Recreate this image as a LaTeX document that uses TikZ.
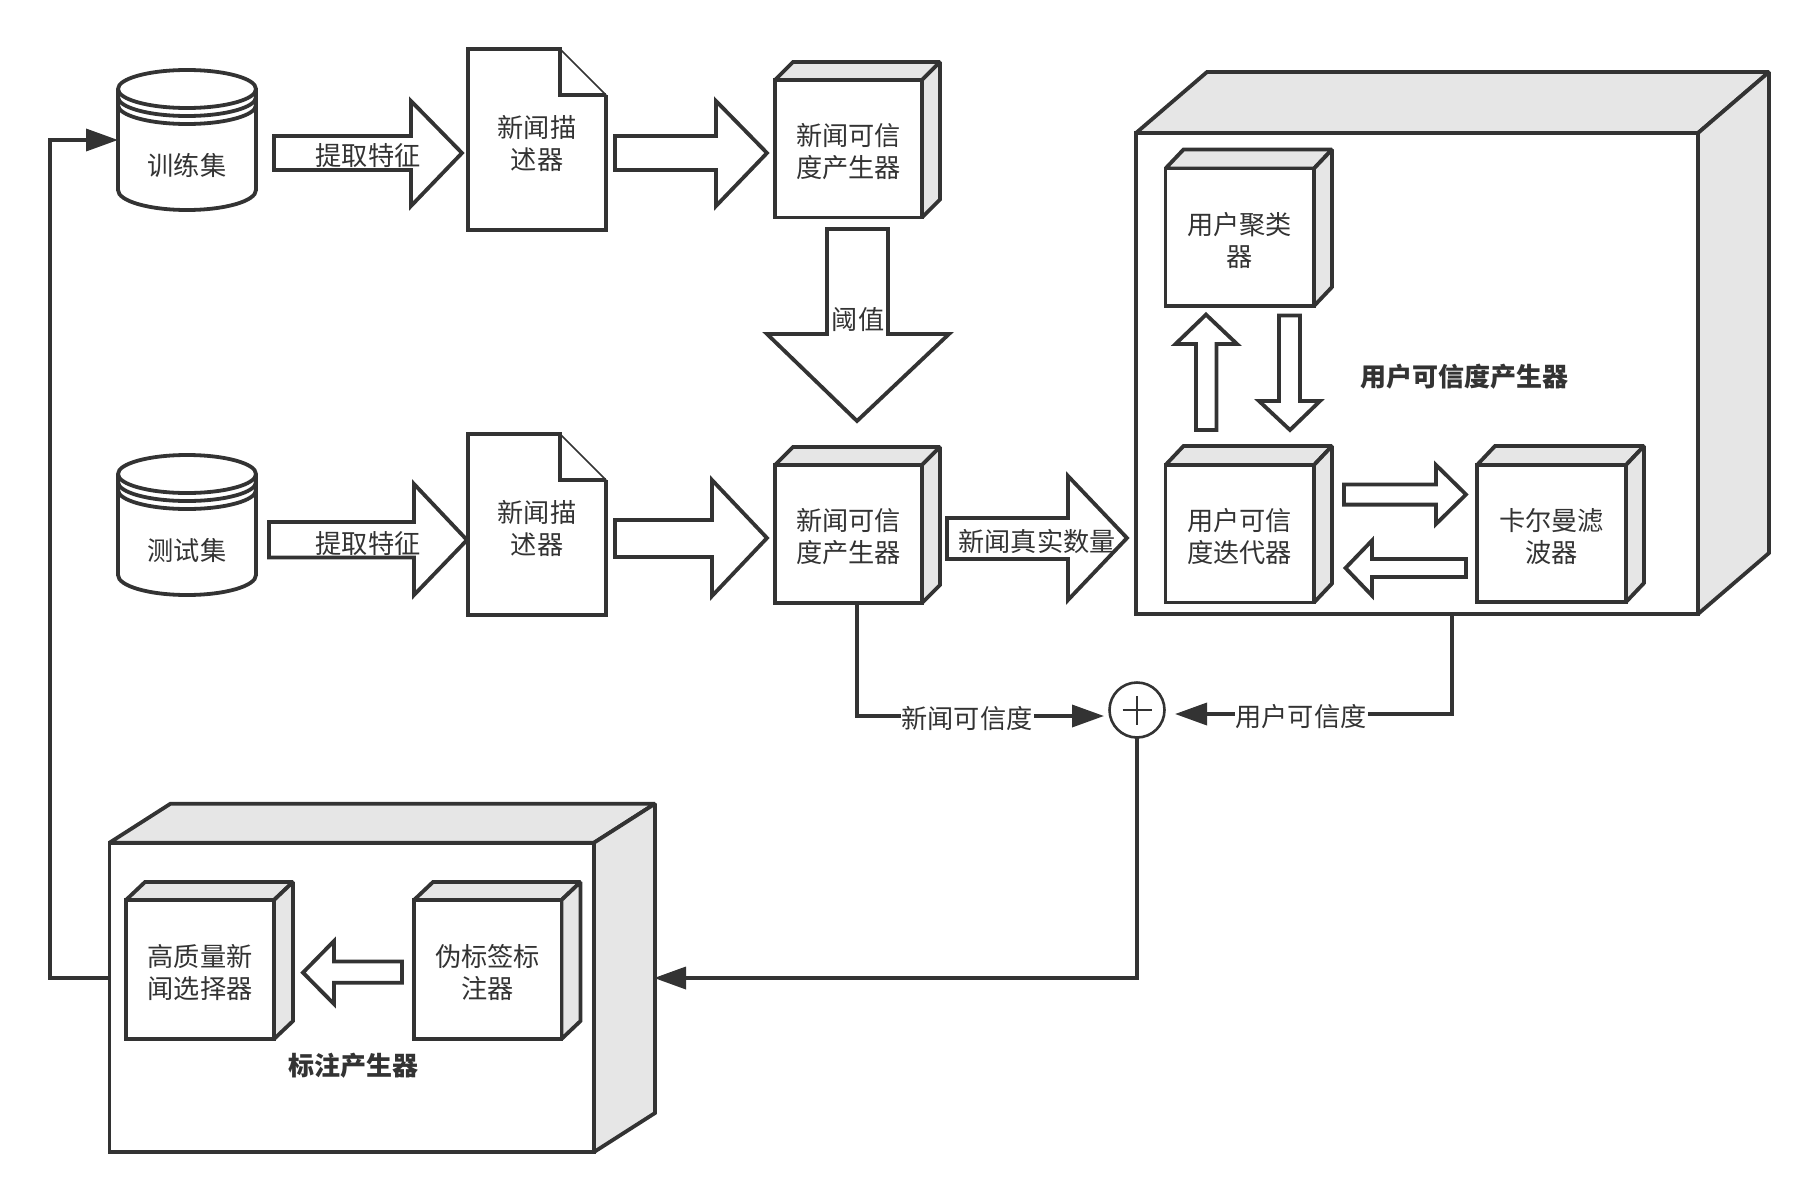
\documentclass[tikz,border=0pt]{standalone}
\usepackage{fontspec}
\newfontfamily\cjk{Noto Sans CJK SC}
\usetikzlibrary{arrows.meta}
\definecolor{ink}{HTML}{333333}
\definecolor{facegray}{HTML}{E6E6E6}
\tikzset{
  stroke/.style={draw=ink,line width=3.8pt,line join=miter,miter limit=2},
  frontface/.style={stroke,fill=white,inner sep=0pt,outer sep=0pt},
  sideface/.style={stroke,fill=facegray},
  blockarrow/.style={draw=ink,line width=3.8pt,line join=miter,fill=white},
  txt/.style={inner sep=0pt,outer sep=0pt,align=center,text=ink,font=\cjk\fontsize{26.2}{32}\selectfont},
  boldtxt/.style={txt,font=\cjk\bfseries\fontsize{26}{32}\selectfont},
  edgelabel/.style={txt,fill=white,inner sep=1pt},
  flow/.style={draw=ink,line width=3.6pt,-{Triangle[length=32pt,width=22pt]}},
  hidden/.style={inner sep=0pt,outer sep=0pt},
}
\newcommand{\cubebox}[8]{%
  \path[sideface] (#2,#3) -- ({#2+#6},{#3-#7}) -- ({#4+#6},{#3-#7}) -- (#4,#3) -- cycle;
  \path[sideface] (#4,#3) -- ({#4+#6},{#3-#7}) -- ({#4+#6},{#5-#7}) -- (#4,#5) -- cycle;
  \node[frontface,minimum width={(#4-#2)*1pt},minimum height={(#5-#3)*1pt}] (#1) at ({(#2+#4)/2},{(#3+#5)/2}) {};
  \node[txt] (#1-text) at ({(#2+#4)/2},{(#3+#5)/2+3}) {#8};
}
\newcommand{\drum}[3]{% name, top y, text
  \path[stroke,fill=white] (118,{#2+19}) -- (118,{#2+120}) arc[start angle=180,end angle=360,x radius=69pt,y radius=20pt] -- (256,{#2+19}) arc[start angle=0,end angle=180,x radius=69pt,y radius=19pt] -- cycle;
  \path[stroke] (118,{#2+19}) arc[start angle=180,end angle=360,x radius=69pt,y radius=19pt];
  \path[stroke] (118,{#2+27}) arc[start angle=180,end angle=360,x radius=69pt,y radius=19pt];
  \path[stroke] (118,{#2+35}) arc[start angle=180,end angle=360,x radius=69pt,y radius=19pt];
  \node[hidden,minimum width=138pt,minimum height=140pt] (#1) at (187,{#2+70}) {};
  \node[txt] (#1-text) at (187,{#2+95.5}) {#3};
}
\newcommand{\docsheet}[3]{% name, top y, text
  \path[fill=white] (468,#2) -- (560,#2) -- (606,{#2+46}) -- ({606},{#2+181}) -- (468,{#2+181}) -- cycle;
  \draw[draw=ink,line width=1.6pt] (560,#2) -- (606,{#2+46});
  \path[draw=ink,line width=3.8pt,line join=miter] (606,{#2+46}) -- (606,{#2+181}) -- (468,{#2+181}) -- (468,#2) -- (560,#2) -- (560,{#2+46}) -- (606,{#2+46});
  \node[txt] (#1) at (537,{#2+94}) {#3};
}
\begin{document}
\begin{tikzpicture}[x=1pt,y=-1pt]
\path[use as bounding box] (0,0) rectangle (1819,1202);

% cylinders
\drum{train}{70}{训练集}
\drum{test}{455}{测试集}

% documents
\docsheet{doc1}{49}{新闻描\\述器}
\docsheet{doc2}{434}{新闻描\\述器}

% small cubes, upper left
\cubebox{gen1}{775}{80}{922}{217.5}{18}{18}{新闻可信\\度产生器}
\cubebox{gen2}{775}{465}{922}{603}{18}{18}{新闻可信\\度产生器}

% block arrows, top and middle rows
\path[blockarrow] (274,136) -- (411,136) -- (411,101) -- (462,153) -- (411,206) -- (411,170) -- (274,170) -- cycle;
\path[blockarrow] (615,136) -- (716,136) -- (716,101) -- (767,153) -- (716,206) -- (716,170) -- (615,170) -- cycle;
\path[blockarrow] (269,522) -- (414,522) -- (414,484) -- (467,540) -- (414,595) -- (414,557.5) -- (269,557.5) -- cycle;
\path[blockarrow] (615,520) -- (712,520) -- (712,480) -- (767,538) -- (712,596) -- (712,557) -- (615,557) -- cycle;
\path[blockarrow] (827,229) -- (888,229) -- (888,334) -- (949,334) -- (857,421) -- (767,334) -- (827,334) -- cycle;
\path[blockarrow] (947,518) -- (1068,518) -- (1068,476) -- (1127,538) -- (1068,600) -- (1068,559) -- (947,559) -- cycle;

\node[txt] (extract1) at (368,155.5) {提取特征};
\node[txt] (extract2) at (368,544) {提取特征};
\node[txt] (threshold) at (858,320) {阈值};
\node[txt] (truecount) at (1037,541) {新闻真实数量};

% user credibility generator
\cubebox{ucred}{1136}{133}{1698}{614}{71}{61}{}
\node[boldtxt] (ucredtitle) at (1464,377) {用户可信度产生器};
\cubebox{cluster}{1165.5}{168.5}{1314}{306}{18}{19}{用户聚类\\器}
\cubebox{iter}{1165.5}{465}{1314}{602.5}{18}{19}{用户可信\\度迭代器}
\cubebox{kalman}{1477}{465}{1626}{602}{18}{19}{卡尔曼滤\\波器}
\path[blockarrow] (1196,430) -- (1196,344) -- (1175.5,344) -- (1206,314.6) -- (1237,344) -- (1216.5,344) -- (1216.5,430) -- cycle;
\path[blockarrow] (1279,315.5) -- (1300,315.5) -- (1300,401) -- (1320,401) -- (1290,430) -- (1259,401) -- (1279,401) -- cycle;
\path[blockarrow] (1344,484.5) -- (1436,484.5) -- (1436,465) -- (1466,494.5) -- (1436,524) -- (1436,504.6) -- (1344,504.6) -- cycle;
\path[blockarrow] (1466,559) -- (1372,559) -- (1372,540.5) -- (1345.5,568) -- (1372,595.6) -- (1372,577) -- (1466,577) -- cycle;

% label generator
\cubebox{labeler}{109.5}{842.7}{594}{1152}{61}{39}{}
\node[boldtxt] (labelertitle) at (353,1066) {标注产生器};
\cubebox{select}{126}{900}{274}{1039}{19}{18}{高质量新\\闻选择器}
\cubebox{pseudo}{414}{900}{561.5}{1039}{19}{18}{伪标签标\\注器}
\path[blockarrow] (402,961.5) -- (334,961.5) -- (334,941) -- (303,972.6) -- (334,1004) -- (334,982.7) -- (402,982.7) -- cycle;

% sum junction
\node[draw=ink,line width=2.6pt,circle,minimum size=55pt,inner sep=0pt,outer sep=0pt,fill=white] (sum) at (1137,710) {};
\draw[draw=ink,line width=1.6pt] ([xshift=-14.5pt]sum.center) -- ([xshift=14.5pt]sum.center);
\draw[draw=ink,line width=1.6pt] ([yshift=-14.5pt]sum.center) -- ([yshift=14.5pt]sum.center);

% connector ports
\coordinate (gen2out) at (857,603);
\coordinate (sumleft) at (1104,716);
\coordinate (ucredout) at (1452,614);
\coordinate (sumright) at (1175,714);
\coordinate (labelerin) at (654,978);
\coordinate (labelerout) at (109.5,978);

% connectors
\draw[flow] (gen2out) |- (sumleft);
\draw[flow] (ucredout) |- (sumright);
\draw[flow] (sum.south) |- (labelerin);
\draw[flow] (labelerout) -- (50,978) |- (train.west);

\node[edgelabel] (newscred) at (967,719) {新闻可信度};
\node[edgelabel] (usercred) at (1301,717) {用户可信度};
\end{tikzpicture}
\end{document}
